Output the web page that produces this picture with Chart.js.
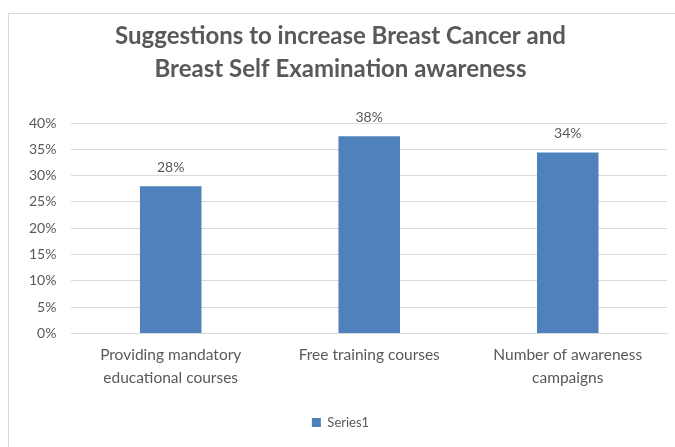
<!DOCTYPE html>
<html>
<head>
<meta charset="utf-8">
<script src="https://cdn.jsdelivr.net/npm/chart.js@4"></script>
<style>
  html, body { margin: 0; padding: 0; background: #fff; }
  #box {
    position: absolute; left: 8px; top: 13px;
    width: 667px; height: 434px;
    border: 1px solid #d9d9d9; border-right: none; border-bottom: none;
    box-sizing: border-box;
  }
</style>
</head>
<body>
<div id="box"><canvas id="grafico" width="666" height="433"></canvas></div>
<script>
// Dados
const categorias = [
  ['Providing mandatory', 'educational courses'],
  ['Free training courses'],
  ['Number of awareness', 'campaigns'],
];
const valores = [28.0, 37.5, 34.4];
const serie = 'Series1';
const titulo = ['Suggestions to increase Breast Cancer and', 'Breast Self Examination awareness'];

const azul = '#4f81bd';
const cinza = '#595959';

// Rótulos de valor acima das barras (como no Excel)
const rotulosBarras = {
  id: 'rotulosBarras',
  afterDatasetsDraw(chart) {
    const ctx = chart.ctx;
    const meta = chart.getDatasetMeta(0);
    ctx.save();
    ctx.font = '14px Lato';
    ctx.fillStyle = cinza;
    ctx.textAlign = 'center';
    ctx.textBaseline = 'bottom';
    meta.data.forEach((bar, i) => {
      ctx.fillText(Math.round(valores[i]) + '%', bar.x, bar.y - 12);
    });
    ctx.restore();
  },
};

new Chart(document.getElementById('grafico'), {
  type: 'bar',
  data: {
    labels: categorias,
    datasets: [{
      label: serie,
      data: valores,
      backgroundColor: azul,
      barPercentage: 1,
      categoryPercentage: 0.31,
    }],
  },
  plugins: [rotulosBarras],
  options: {
    responsive: false,
    animation: false,
    layout: { padding: { left: 5, right: 8, top: 0, bottom: 8 } },
    plugins: {
      title: {
        display: true,
        text: titulo,
        color: cinza,
        font: { family: 'Lato', size: 24, weight: 'bold', lineHeight: 1.375 },
        padding: { top: 6, bottom: 37 },
      },
      legend: {
        position: 'bottom',
        labels: {
          color: cinza,
          font: { family: 'Lato', size: 13 },
          boxWidth: 9, boxHeight: 9,
          padding: 16,
        },
      },
      tooltip: { enabled: false },
    },
    scales: {
      x: {
        grid: { display: false, drawTicks: false },
        border: { color: '#d9d9d9' },
        ticks: {
          color: cinza,
          font: { family: 'Lato', size: 15.5, lineHeight: 1.5 },
          padding: 10,
          maxRotation: 0,
        },
      },
      y: {
        min: 0, max: 40,
        grid: { color: '#d9d9d9', drawTicks: false },
        border: { display: false },
        ticks: {
          stepSize: 5,
          color: cinza,
          font: { family: 'Lato', size: 14 },
          padding: 15,
          callback: (v) => v + '%',
        },
      },
    },
  },
});
</script>
</body>
</html>
